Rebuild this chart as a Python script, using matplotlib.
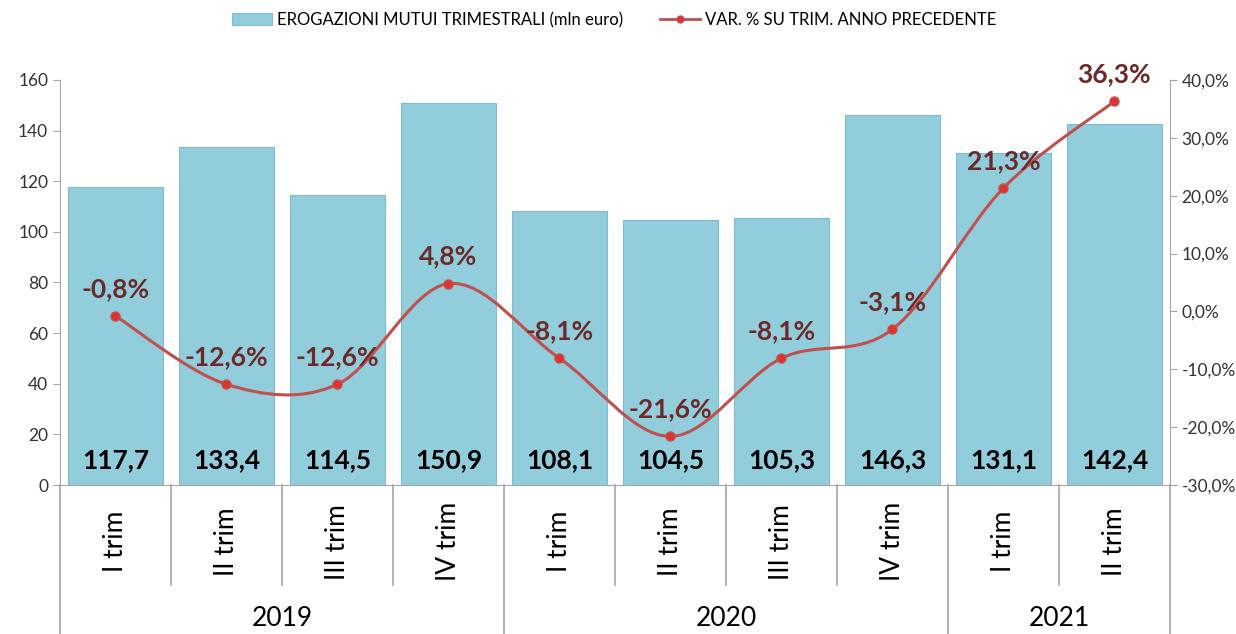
import matplotlib.pyplot as plt
import numpy as np
from matplotlib.path import Path
from matplotlib.patches import PathPatch

plt.rcParams['font.family'] = ['Lato', 'DejaVu Sans']

quarters = ['I trim', 'II trim', 'III trim', 'IV trim', 'I trim', 'II trim',
            'III trim', 'IV trim', 'I trim', 'II trim']
years = ['2019', '2020', '2021']
year_sizes = [4, 4, 2]
erogazioni = [117.7, 133.4, 114.5, 150.9, 108.1, 104.5, 105.3, 146.3, 131.1, 142.4]
variazioni = [-0.8, -12.6, -12.6, 4.8, -8.1, -21.6, -8.1, -3.1, 21.3, 36.3]

def fmt(v, d=1):
    return f'{v:.{d}f}'.replace('.', ',')

fig = plt.figure(figsize=(12.36, 6.34), dpi=100)
ax = fig.add_axes([0.0485, 0.235, 0.898, 0.639])
ax2 = ax.twinx()

x = np.arange(len(erogazioni))
bar_col = '#92CDDC'
ax.bar(x, erogazioni, width=0.85, color=bar_col, edgecolor='#7FBBCB', linewidth=0.8,
       label='EROGAZIONI MUTUI TRIMESTRALI (mln euro)', zorder=2)
for xi, v in zip(x, erogazioni):
    ax.text(xi, 5, fmt(v), ha='center', va='bottom', fontsize=19, fontweight='bold',
            color='black', zorder=5)

ax.set_xlim(-0.5, len(x) - 0.5)
ax.set_ylim(0, 160)
ax.set_yticks(range(0, 161, 20))
ax2.set_ylim(-30, 40)
ax2.set_yticks(range(-30, 41, 10))
ax2.set_yticklabels([fmt(t) + '%' for t in range(-30, 41, 10)])

# smoothed line (Bezier through the points, like Excel)
pts = np.column_stack([x, variazioni]).astype(float)
verts = [tuple(pts[0])]
codes = [Path.MOVETO]
n = len(pts)
for i in range(n - 1):
    p0 = pts[max(i - 1, 0)]
    p1 = pts[i]
    p2 = pts[i + 1]
    p3 = pts[min(i + 2, n - 1)]
    c1 = p1 + (p2 - p0) / 6
    c2 = p2 - (p3 - p1) / 6
    verts += [tuple(c1), tuple(c2), tuple(p2)]
    codes += [Path.CURVE4] * 3
line_col = '#C0504D'
ax2.add_patch(PathPatch(Path(verts, codes), facecolor='none', edgecolor=line_col,
                        linewidth=2.2, zorder=3))
ax2.plot(x, variazioni, linestyle='none', marker='o', markersize=6.5, color='#E03030',
         markeredgecolor=line_col, zorder=4)
ax2.plot([], [], color=line_col, marker='o', markersize=5, markerfacecolor='#E03030',
         linewidth=2, label='VAR. % SU TRIM. ANNO PRECEDENTE')
for xi, v in zip(x, variazioni):
    ax2.annotate(fmt(v) + '%', (xi, v), xytext=(0, 11), textcoords='offset points',
                 ha='center', va='bottom', fontsize=19, fontweight='bold',
                 color='#6B2A2A', zorder=6)

ax.set_zorder(ax2.get_zorder() - 1)
ax2.patch.set_visible(False)

grey = '#A6A6A6'
for a in (ax, ax2):
    a.spines['top'].set_visible(False)
    for s in a.spines.values():
        s.set_color(grey)
    a.tick_params(axis='y', colors=grey, labelcolor='#333333', labelsize=12.5, length=5)
ax.spines['right'].set_visible(False)
ax2.spines['left'].set_visible(False)
ax2.spines['bottom'].set_visible(False)

# category axis
ax.set_xticks([])
tr = ax.get_xaxis_transform()
for xi, q in zip(x, quarters):
    ax.text(xi, -0.14, q, rotation=90, ha='center', va='center', fontsize=19,
            color='black', transform=tr)
start = 0
bounds = [0]
for ys in year_sizes:
    start += ys
    bounds.append(start)
for k in range(len(x) + 1):
    y_end = -0.37 if k in bounds else -0.247
    ax.plot([k - 0.5, k - 0.5], [0, y_end], color=grey, linewidth=1.2,
            transform=tr, clip_on=False)
for yr, b0, b1 in zip(years, bounds[:-1], bounds[1:]):
    ax.text((b0 + b1) / 2 - 0.5, -0.33, yr, ha='center', va='center', fontsize=19,
            color='black', transform=tr)

h1, l1 = ax.get_legend_handles_labels()
h2, l2 = ax2.get_legend_handles_labels()
fig.legend(h1 + h2, l1 + l2, loc='upper center', bbox_to_anchor=(0.497, 1.005), ncol=2,
           frameon=False, fontsize=12, handlelength=2.4, columnspacing=2.2,
           handletextpad=0.3)

plt.savefig('out.png', dpi=100)
